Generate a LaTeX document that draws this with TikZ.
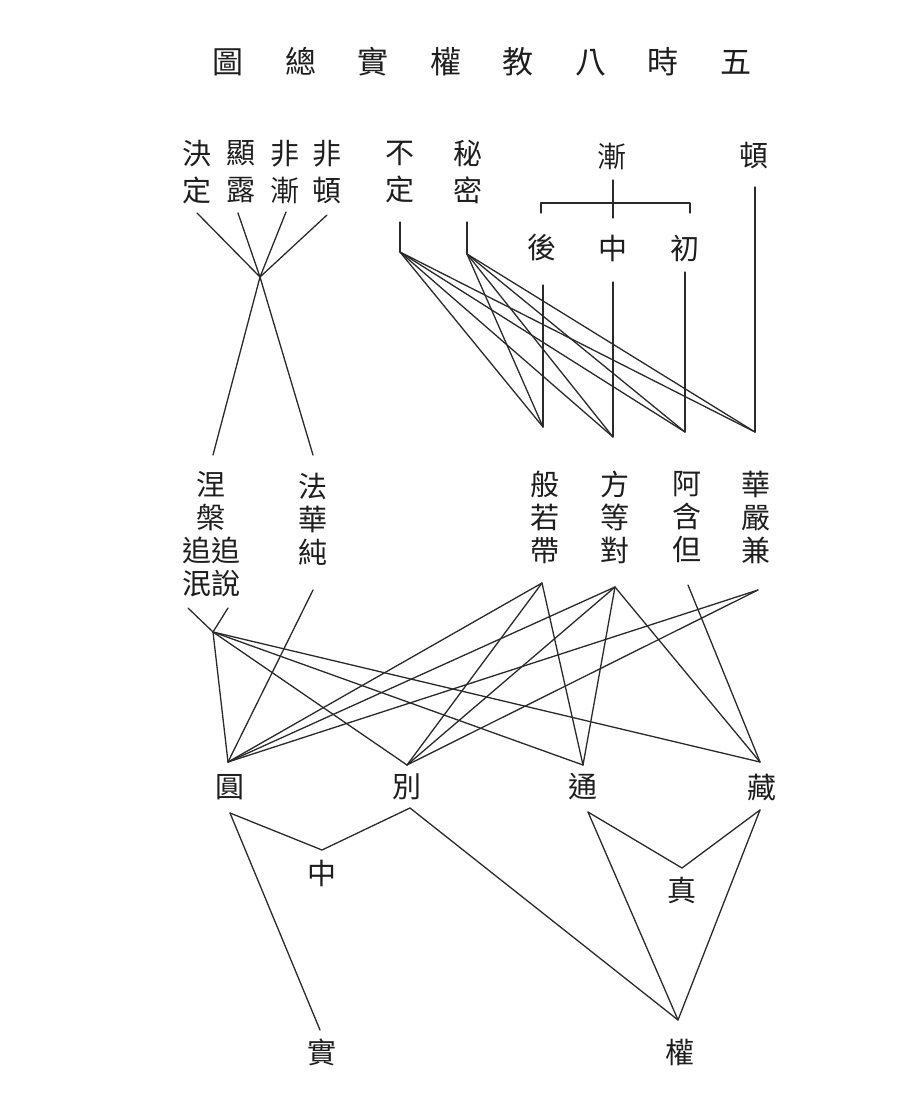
\documentclass[tikz,border=0pt]{standalone}
\usepackage{fontspec}
\newfontfamily\cjk{Noto Sans CJK TC}
\definecolor{ink}{HTML}{1E1E1E}
\definecolor{wire}{HTML}{2A2A2A}
\tikzset{
  lbl/.style={inner sep=0pt, align=center, text=ink, font=\cjk\fontsize{29}{37}\selectfont},
  midlbl/.style={lbl, font=\cjk\fontsize{29}{33}\selectfont},
  ttl/.style={inner sep=0pt, text=ink, font=\cjk\fontsize{31}{31}\selectfont},
  wireline/.style={draw=wire, line width=1.3pt, line cap=round, line join=round}
}
\begin{document}
\begin{tikzpicture}[x=1pt,y=-1pt]
\fill[white] (0,0) rectangle (907,1105);
\useasboundingbox (0,0) rectangle (907,1105);
% title
\node[ttl] (title) at (482,62) {圖\hspace{41.5pt}總\hspace{41.5pt}實\hspace{41.5pt}權\hspace{41.5pt}教\hspace{41.5pt}八\hspace{41.5pt}時\hspace{41.5pt}五};
% top labels
\node[lbl] (jueding) at (197,172) {決\\定};
\node[lbl] (xianlu) at (241,172) {顯\\露};
\node[lbl] (feijian) at (285,172) {非\\漸};
\node[lbl] (feidun) at (327,172) {非\\頓};
\node[lbl] (buding) at (400,172) {不\\定};
\node[lbl] (mimi) at (468,172) {秘\\密};
\node[lbl] (jian) at (612,156) {漸};
\node[lbl] (dun) at (754,156) {頓};
\node[lbl] (hou) at (542,248) {後};
\node[lbl] (zhong) at (613,248) {中};
\node[lbl] (chu) at (685,248) {初};
% middle labels
\node[midlbl] (niepan) at (211,534) {涅\\槃\\追追\\泯說};
\node[midlbl] (fahua) at (313,519) {法\\華\\純};
\node[midlbl] (bore) at (545,517) {般\\若\\帶};
\node[midlbl] (fangdeng) at (615,517) {方\\等\\對};
\node[midlbl] (ahan) at (687,517) {阿\\含\\但};
\node[midlbl] (huayan) at (756,517) {華\\嚴\\兼};
% bottom labels
\node[lbl] (yuan) at (230,787) {圓};
\node[lbl] (bie) at (407,787) {別};
\node[lbl] (tong) at (583,787) {通};
\node[lbl] (zang) at (762,787) {藏};
\node[lbl] (zhong2) at (322,873) {中};
\node[lbl] (zhen) at (682,890) {真};
\node[lbl] (shi) at (322,1052) {實};
\node[lbl] (quan) at (680,1052) {權};
% connector points
\coordinate (cjd) at (197,213);
\coordinate (cxl) at (238,213);
\coordinate (cfj) at (286,212);
\coordinate (cfd) at (327,215);
\coordinate (cx) at (260,277);
\coordinate (cnptop) at (213,455);
\coordinate (cfhtop) at (313,455);
\coordinate (cbda) at (400,222);
\coordinate (cbd) at (400,252);
\coordinate (cmma) at (467,222);
\coordinate (cmm) at (467,254);
\coordinate (cjtop) at (613,180);
\coordinate (cjbot) at (613,218);
\coordinate (cjl) at (541,203);
\coordinate (cjr) at (690,203);
\coordinate (cjlt) at (541,213);
\coordinate (cjrt) at (690,213);
\coordinate (chou) at (543,285);
\coordinate (choub) at (543,427);
\coordinate (czh) at (613,282);
\coordinate (czhb) at (613,437);
\coordinate (cchu) at (685,272);
\coordinate (cchub) at (685,432);
\coordinate (cdun) at (755,187);
\coordinate (cdunb) at (755,432);
\coordinate (cnpl) at (188,608);
\coordinate (cnpr) at (228,608);
\coordinate (cnp) at (213,632);
\coordinate (cfh) at (313,590);
\coordinate (cbr) at (542,583);
\coordinate (cfdg) at (615,587);
\coordinate (cah) at (688,585);
\coordinate (chy) at (758,590);
\coordinate (cyuan) at (228,762);
\coordinate (cbie) at (407,765);
\coordinate (ctong) at (583,765);
\coordinate (czang) at (760,762);
\coordinate (cyuanb) at (230,813);
\coordinate (cbieb) at (410,808);
\coordinate (ctongb) at (588,812);
\coordinate (czangb) at (760,810);
\coordinate (czhong) at (322,850);
\coordinate (czhen) at (682,868);
\coordinate (cshi) at (320,1030);
\coordinate (cquan) at (678,1020);
% top-left crossing
\draw[wireline] (cjd) -- (cx) (cxl) -- (cx) (cfj) -- (cx) (cfd) -- (cx);
\draw[wireline] (cx) -- (cnptop) (cx) -- (cfhtop);
% 不定 / 秘密 fans
\draw[wireline] (cbda) -- (cbd) (cmma) -- (cmm);
\foreach \t in {choub,czhb,cchub,cdunb}{
  \draw[wireline] (cbd) -- (\t);
  \draw[wireline] (cmm) -- (\t);
}
% 漸 bracket
\draw[wireline] (cjtop) -- (cjbot);
\draw[wireline] (cjlt) -- (cjl) -- (cjr) -- (cjrt);
% verticals
\draw[wireline] (chou) -- (choub) (czh) -- (czhb) (cchu) -- (cchub) (cdun) -- (cdunb);
% middle to bottom
\draw[wireline] (cnpl) -- (cnp) (cnpr) -- (cnp);
\foreach \t in {cyuan,cbie,ctong,czang}{ \draw[wireline] (cnp) -- (\t); }
\draw[wireline] (cfh) -- (cyuan);
\foreach \t in {cyuan,cbie,ctong}{ \draw[wireline] (cbr) -- (\t); }
\foreach \t in {cyuan,cbie,ctong,czang}{ \draw[wireline] (cfdg) -- (\t); }
\draw[wireline] (cah) -- (czang);
\foreach \t in {cyuan,cbie}{ \draw[wireline] (chy) -- (\t); }
% bottom
\draw[wireline] (cyuanb) -- (czhong) -- (cbieb);
\draw[wireline] (cyuanb) -- (cshi);
\draw[wireline] (cbieb) -- (cquan);
\draw[wireline] (ctongb) -- (czhen) -- (czangb);
\draw[wireline] (ctongb) -- (cquan) -- (czangb);
\end{tikzpicture}
\end{document}
